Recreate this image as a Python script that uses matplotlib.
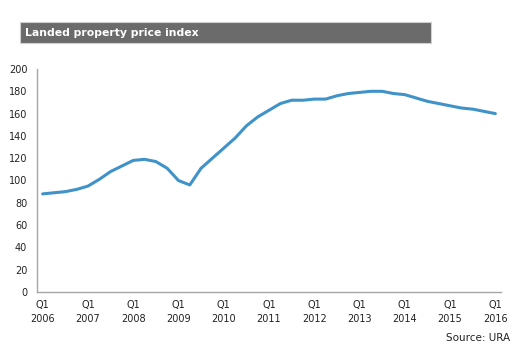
import matplotlib
matplotlib.use("Agg")
import matplotlib.pyplot as plt
from matplotlib.patches import Rectangle

# quarterly landed property price index, Q1 2006 .. Q1 2016
index_values = [88, 89, 90, 92, 95, 101, 108, 113, 118, 119, 117, 111,
                100, 96, 111, 120, 129, 138, 149, 157, 163, 169, 172, 172,
                173, 173, 176, 178, 179, 180, 180, 178, 177, 174, 171, 169,
                167, 165, 164, 162, 160]
years = list(range(2006, 2017))
tick_labels = ["Q1\n%d" % y for y in years]
y_ticks = list(range(0, 201, 20))

fig = plt.figure(figsize=(5.24, 3.52), dpi=100)

# grey title bar
fig.patches.append(Rectangle((20 / 524, 1 - 43 / 352), 411 / 524, 21 / 352,
                             transform=fig.transFigure, facecolor="#6b6b6b",
                             edgecolor="#d0d0d0", linewidth=0.8))
fig.text(25 / 524, 1 - 33 / 352, "Landed property price index", color="white",
         fontsize=7.8, fontweight="bold", va="center", ha="left")

ax = fig.add_axes([37 / 524, 1 - 292 / 352, 464 / 524, 223 / 352])
quarters = list(range(len(index_values)))
ax.plot(quarters, index_values, color="#3f93c9", linewidth=2.2,
        solid_joinstyle="round", solid_capstyle="round")

ax.set_xlim(-0.5, 40.5)
ax.set_ylim(0, 200)
ax.set_yticks(y_ticks)
ax.set_xticks([4 * i for i in range(len(years))])
ax.set_xticklabels(tick_labels)
ax.tick_params(axis="both", length=0, labelsize=7, colors="#222222")
ax.tick_params(axis="y", pad=7)
ax.tick_params(axis="x", pad=6)
for lbl in ax.get_xticklabels():
    lbl.set_linespacing(1.5)

for side in ["top", "right"]:
    ax.spines[side].set_visible(False)
for side in ["left", "bottom"]:
    ax.spines[side].set_color("#a6a6a6")
    ax.spines[side].set_linewidth(1.0)

fig.text(510 / 524, 1 - 338 / 352, "Source: URA", fontsize=7.5, ha="right",
         va="center", color="#222222")

fig.savefig("out.png", dpi=100)
